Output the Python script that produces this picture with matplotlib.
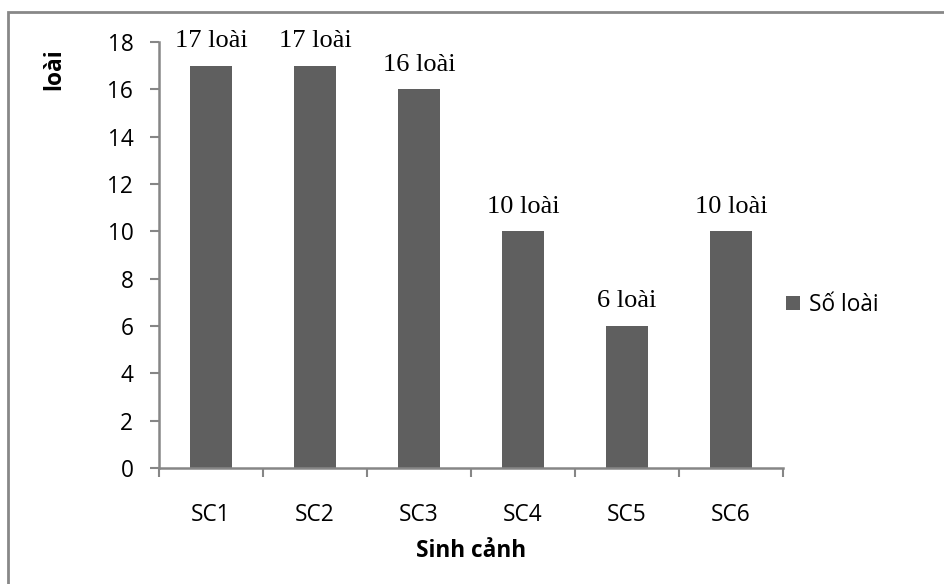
import matplotlib.pyplot as plt
from matplotlib.patches import Rectangle
import numpy as np

plt.rcParams['font.family'] = ['Open Sans', 'DejaVu Sans']

# data
categories = ['SC1', 'SC2', 'SC3', 'SC4', 'SC5', 'SC6']
so_loai = [17, 17, 16, 10, 6, 10]
nhan = ['17 loài', '17 loài', '16 loài', '10 loài', '6 loài', '10 loài']

W, H = 944, 584
fig = plt.figure(figsize=(W/100, H/100), dpi=100)
ax = fig.add_axes([159/W, 1-468/H, (783-159)/W, (468-42)/H])

bar_col = '#5f5f5f'
axis_col = '#868686'
fs = 16.3

x = np.arange(len(categories))
ax.bar(x, so_loai, width=0.4, color=bar_col, label='Số loài', zorder=2)

for xi, v, s in zip(x, so_loai, nhan):
    ax.annotate(s, (xi, v), xytext=(0, 13.5), textcoords='offset points',
                ha='center', va='baseline', fontsize=19,
                family=['Liberation Serif', 'DejaVu Serif'])

ax.set_xlim(-0.5, len(categories)-0.5)
ax.set_ylim(0, 18)
ax.set_yticks(np.arange(0, 19, 2))
ax.set_xticks(x)
ax.set_xticklabels(categories)
ax.set_xticks(np.arange(-0.5, len(categories), 1), minor=True)

for side in ['top', 'right']:
    ax.spines[side].set_visible(False)
for side in ['left', 'bottom']:
    ax.spines[side].set_color(axis_col)
    ax.spines[side].set_linewidth(1.8)

ax.tick_params(axis='y', which='major', direction='out', length=6.5, width=1.5,
               color=axis_col, labelsize=fs, pad=12)
ax.tick_params(axis='x', which='major', length=0, labelsize=fs, pad=25)
ax.tick_params(axis='x', which='minor', direction='out', length=6.5, width=1.5,
               color=axis_col)

fig.text(54/W, 1-69/H, 'loài', rotation=90, ha='center', va='center',
         fontsize=fs, fontweight='bold')
fig.text(471/W, 1-551/H, 'Sinh cảnh', ha='center', va='center',
         fontsize=fs, fontweight='bold')

fig.legend(loc='center left', bbox_to_anchor=(786/W, 1-305/H), frameon=False,
           fontsize=fs, handlelength=0.6, handleheight=0.6,
           handletextpad=0.4, borderpad=0, borderaxespad=0)

# outer chart border (cut at right and bottom like the reference)
fig.patches.append(Rectangle((8/W, -0.1), 1.1, 1-12/H+0.1, transform=fig.transFigure,
                             fill=False, edgecolor='#888888', linewidth=2))

fig.savefig('out.png', dpi=100)
